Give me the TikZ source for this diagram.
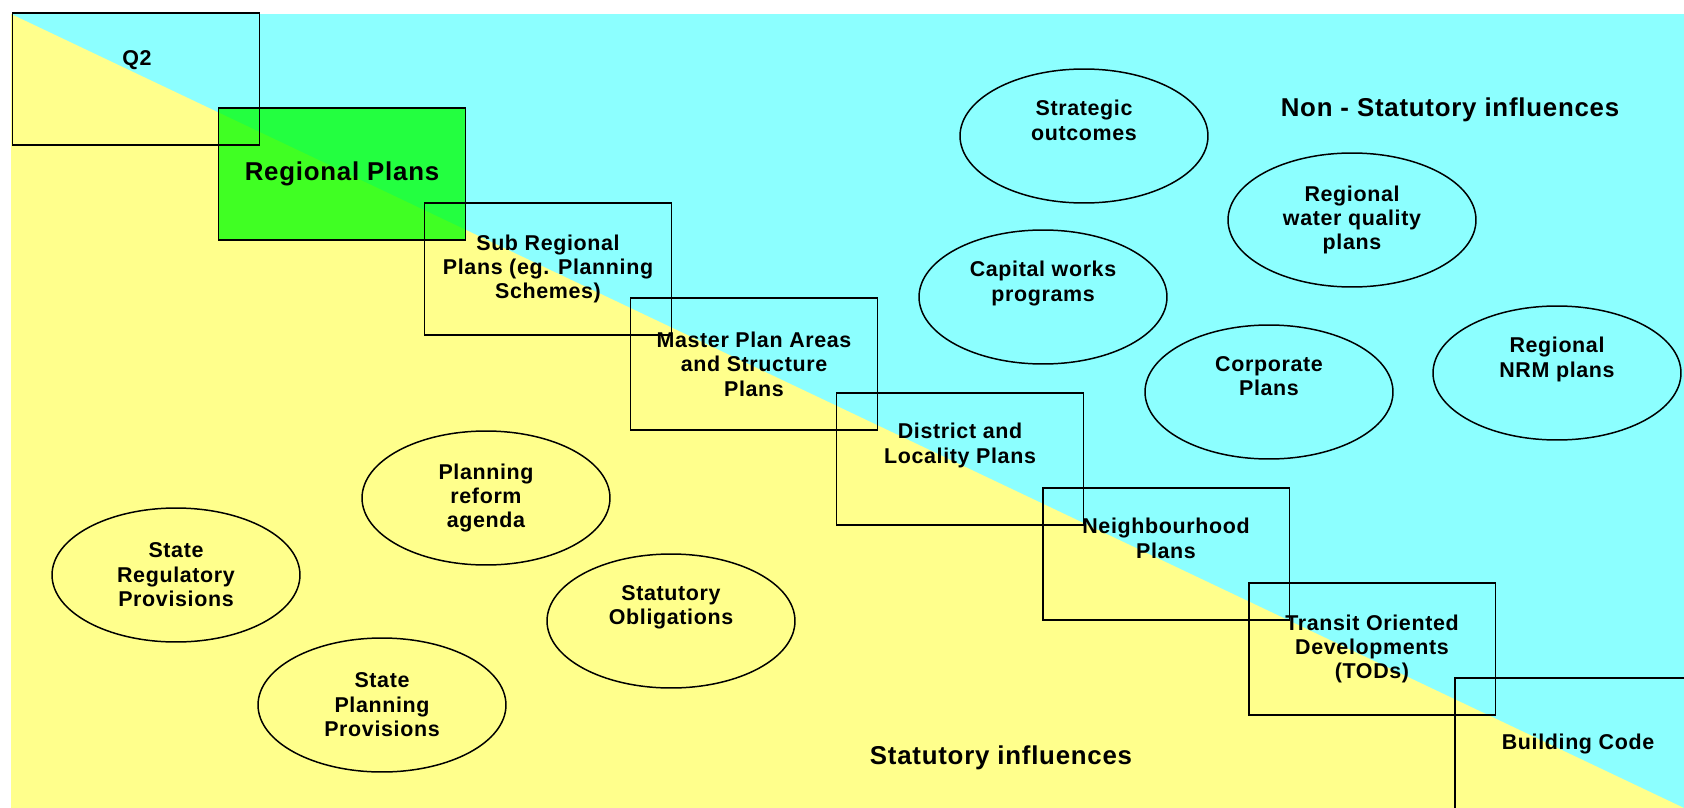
\documentclass[tikz,border=0pt]{standalone}
\usepackage{fontspec}
\setmainfont{Liberation Sans}
\newfontfamily\planfont[LetterSpace=3]{Liberation Sans}
\usepackage{tikz}
\usetikzlibrary{shapes.geometric}
\usepackage{xcolor}

\definecolor{statyellow}{RGB}{255,255,140}
\definecolor{nonstatcyan}{RGB}{140,255,255}
\definecolor{regiongreen}{RGB}{0,255,0}

\begin{document}
\begin{tikzpicture}[
    x=0.02cm, y=-0.02cm,
    planbox/.style={rectangle, draw, line width=1.1pt, minimum width=4.94cm, minimum height=2.64cm, align=center, font=\planfont\bfseries\fontsize{12.2}{13.9}\selectfont},
    influence/.style={ellipse, draw, line width=0.85pt, minimum width=4.96cm, minimum height=2.68cm, inner sep=0pt, align=center, font=\planfont\bfseries\fontsize{12.2}{13.9}\selectfont},
    heading/.style={font=\planfont\bfseries\fontsize{14.7}{17}\selectfont}
]

% background
\useasboundingbox (0,0) rectangle (1684,808);
\clip (0,0) rectangle (1684,808);
\fill[nonstatcyan] (11,14) rectangle (1684,808);
\fill[statyellow] (11,14) -- (1684,808) -- (11,808) -- cycle;

% plan hierarchy
\node[planbox, fill=regiongreen, fill opacity=0.75, text opacity=1, font=\planfont\bfseries\fontsize{14.7}{17}\selectfont] (regional) at (342,174) {Regional Plans};
\node[planbox] (q2) at (136,79) {};
\node[planbox] (subregional) at (548,269) {Sub Regional\\Plans (eg. Planning\\Schemes)};
\node[planbox] (masterplan) at (754,364) {Master Plan Areas\\and Structure\\Plans};
\node[planbox] (district) at (960,459) {District and\\Locality Plans\\\strut};
\node[planbox] (neighbourhood) at (1166,554) {Neighbourhood\\Plans\\\strut};
\node[planbox] (transit) at (1372,649) {Transit Oriented\\Developments\\(TODs)};
\node[planbox] (building) at (1578,744) {Building Code};
\node[font=\planfont\bfseries\fontsize{12.2}{13.9}\selectfont] (q2label) at (137,60) {Q2};

% non-statutory influences
\node[influence] (strategic) at (1084,136) {Strategic\\outcomes\\\strut};
\node[influence] (waterquality) at (1352,220) {Regional\\water quality\\plans};
\node[influence] (capital) at (1043,297) {Capital works\\programs\\\strut};
\node[influence] (corporate) at (1269,392) {Corporate\\Plans\\\strut};
\node[influence] (nrm) at (1557,373) {Regional\\NRM plans\\\strut};

% statutory influences
\node[influence] (reform) at (486,498) {Planning\\reform\\agenda};
\node[influence] (stateregulatory) at (176,575) {State\\Regulatory\\Provisions};
\node[influence] (obligations) at (671,621) {Statutory\\Obligations\\\strut};
\node[influence] (stateplanning) at (382,705) {State\\Planning\\Provisions};

% headings
\node[heading] (nonstatutory) at (1450,110) {Non - Statutory influences};
\node[heading] (statutory) at (1001,758) {Statutory influences};

\end{tikzpicture}
\end{document}
